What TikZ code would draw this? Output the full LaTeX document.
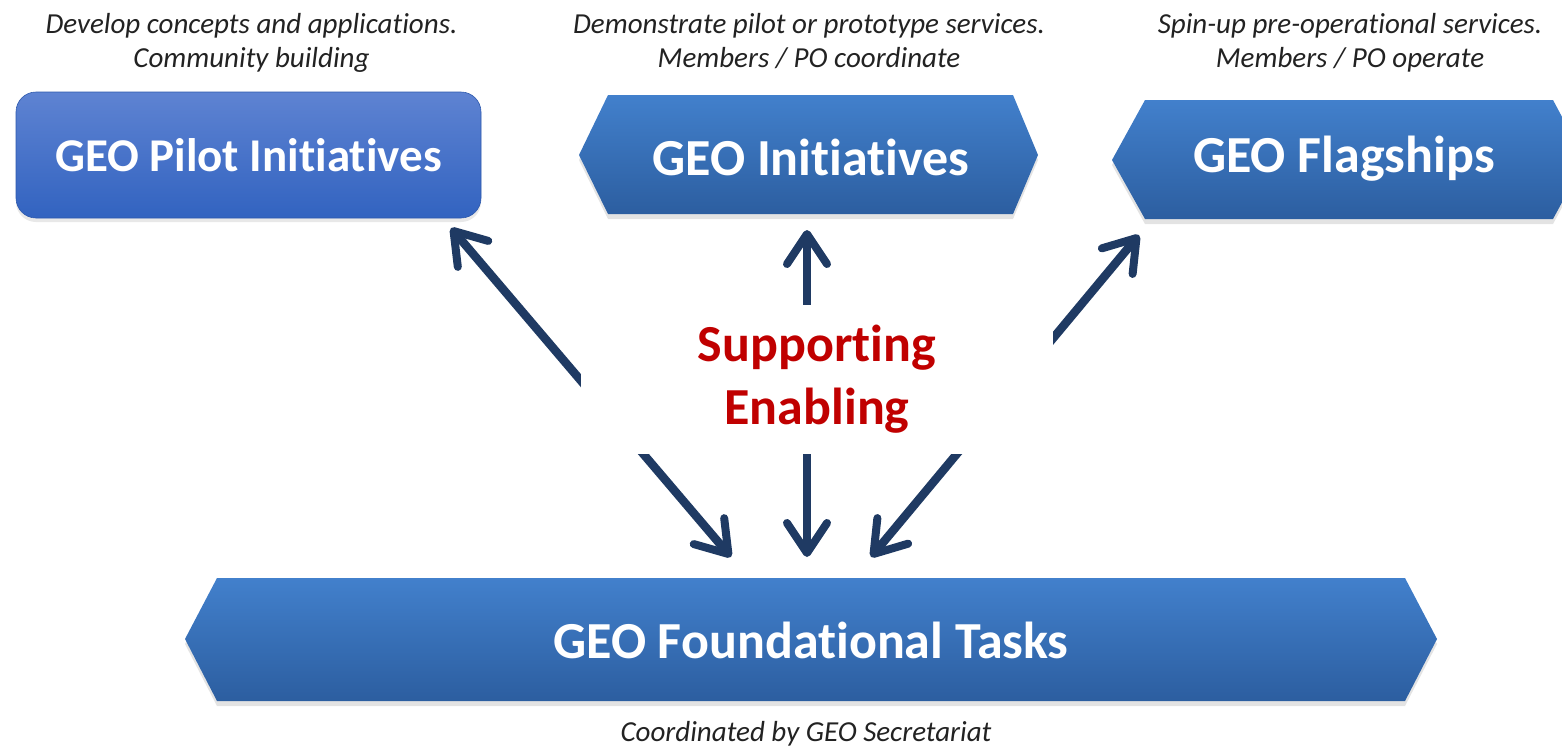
\documentclass[tikz,border=0pt]{standalone}
\usepackage{fontspec}
\setmainfont{Carlito}[Ligatures=NoCommon]
\usetikzlibrary{arrows.meta,shadows}
\definecolor{navy}{RGB}{31,58,99}
\definecolor{redtxt}{RGB}{192,0,0}
\definecolor{gtxt}{RGB}{34,34,34}
\definecolor{pilottop}{RGB}{94,131,210}
\definecolor{pilotbot}{RGB}{50,99,192}
\definecolor{hextop}{RGB}{66,128,204}
\definecolor{hexbot}{RGB}{44,94,160}
\tikzset{
  note/.style={font=\fontsize{29}{34}\selectfont\itshape, text=gtxt, align=center, inner sep=0pt},
  boxlabel/.style={font=\fontsize{52}{62}\selectfont\bfseries, text=white, inner sep=0pt},
  pilotbox/.style={rounded corners=20pt, top color=pilottop, bottom color=pilotbot,
    draw=pilotbot!90!black, line width=0.6pt,
    minimum width=465pt, minimum height=126pt, inner sep=0pt,
    font=\fontsize{47}{56}\selectfont\bfseries, text=white,
    drop shadow={shadow xshift=0pt, shadow yshift=-4pt, opacity=0.18}},
  hexfill/.style={top color=hextop, bottom color=hexbot,
    drop shadow={shadow xshift=0pt, shadow yshift=-5pt, opacity=0.22}},
  barb/.tip={Straight Barb[length=30pt, width=40pt, line width=8pt, round]},
  link/.style={draw=navy, line width=8.5pt, barb-barb},
  hub/.style={fill=white, minimum width=472pt, minimum height=149pt, inner sep=0pt,
    font=\fontsize{52}{63}\selectfont\bfseries, text=redtxt, align=center}
}
\begin{document}
\begin{tikzpicture}[x=1pt,y=-1pt]
\useasboundingbox (0,0) rectangle (1562,750);
\clip (0,0) rectangle (1562,750);

% top notes (base anchor = baseline of last line)
\node[note, anchor=base] (n1) at (251.5,67) {Develop concepts and applications.\\Community building};
\node[note, anchor=base] (n2) at (809,67) {Demonstrate pilot or prototype services.\\Members / PO coordinate};
\node[note, anchor=base] (n3) at (1350,67) {Spin-up pre-operational services.\\Members / PO operate};

% GEO Pilot Initiatives
\node[pilotbox] (pilot) at (248.5,155) {GEO Pilot Initiatives};

% GEO Initiatives hexagon
\path[hexfill] (579,155) -- (608,95) -- (1013,95) -- (1038,155) -- (1013,214) -- (608,214) -- cycle;
\node[boxlabel] (init) at (811,157) {GEO Initiatives};

% GEO Flagships hexagon
\path[hexfill] (1112,160) -- (1145,100) -- (1553,100) -- (1585,160) -- (1553,219) -- (1145,219) -- cycle;
\node[boxlabel] (flag) at (1344,159) {GEO Flagships};

% GEO Foundational Tasks hexagon
\path[hexfill] (185,639) -- (217,578) -- (1405,578) -- (1437,639) -- (1405,701) -- (217,701) -- cycle;
\node[boxlabel] (found) at (811,640) {GEO Foundational Tasks};

% arrow ends
\coordinate (pA) at (451,228);
\coordinate (fA) at (731,557);
\coordinate (iA) at (807,230);
\coordinate (fB) at (807,557);
\coordinate (gA) at (1139,235);
\coordinate (fC) at (871,557);

\draw[link] (pA) -- (fA);
\draw[link] (iA) -- (fB);
\draw[link] (gA) -- (fC);

% central label with white background
\node[hub] (sup) at (817,379) {Supporting\\Enabling};

% bottom note
\node[note, anchor=base] (n4) at (806,741) {Coordinated by GEO Secretariat};
\end{tikzpicture}
\end{document}
